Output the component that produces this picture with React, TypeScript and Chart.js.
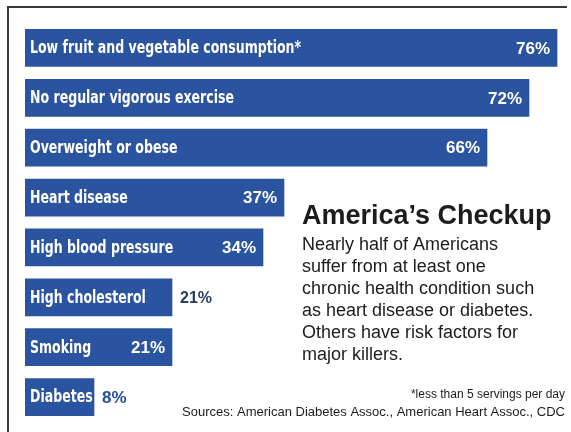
import React, { useEffect, useRef } from "react";
import { Chart, registerables } from "chart.js";

Chart.register(...registerables);

const categories = [
  "Low fruit and vegetable consumption*",
  "No regular vigorous exercise",
  "Overweight or obese",
  "Heart disease",
  "High blood pressure",
  "High cholesterol",
  "Smoking",
  "Diabetes",
];
const values = [76, 72, 66, 37, 34, 21, 21, 8];
const valueInside = [true, true, true, true, true, false, true, false];
const titleText = "America\u2019s Checkup";
const bodyLines = [
  "Nearly half of Americans",
  "suffer from at least one",
  "chronic health condition such",
  "as heart disease or diabetes.",
  "Others have risk factors for",
  "major killers.",
];
const footnote = "*less than 5 servings per day";
const sources = "Sources: American Diabetes Assoc., American Heart Assoc., CDC";

const BAR_COLOR = "#2b54a0";
const NARROW = "'Liberation Sans Narrow', 'DejaVu Sans Condensed', 'Liberation Sans', sans-serif";
const SANS = "'Liberation Sans', Arial, sans-serif";

function condensedText(ctx: any, text: string, x: number, y: number, sx: number) {
  ctx.save();
  ctx.translate(x, y);
  ctx.scale(sx, 1);
  ctx.fillText(text, 0, 0);
  ctx.restore();
}

const labelPlugin = {
  id: "labels",
  beforeDraw(chart: any) {
    const ctx = chart.ctx;
    ctx.save();
    ctx.fillStyle = "#ffffff";
    ctx.fillRect(0, 0, chart.width, chart.height);
    ctx.strokeStyle = "#3a3a3a";
    ctx.lineWidth = 2;
    ctx.beginPath();
    ctx.moveTo(8, 432);
    ctx.lineTo(8, 7);
    ctx.lineTo(567, 7);
    ctx.stroke();
    ctx.restore();
  },
  afterDatasetsDraw(chart: any) {
    const ctx = chart.ctx;
    const meta = chart.getDatasetMeta(0);
    ctx.save();
    ctx.textBaseline = "middle";
    meta.data.forEach((bar: any, i: number) => {
      const left = bar.base;
      const right = bar.x;
      const y = bar.y + 1;
      ctx.font = `bold 17px ${NARROW}`;
      ctx.fillStyle = "#ffffff";
      ctx.textAlign = "left";
      condensedText(ctx, categories[i], left + 5, y, 0.82);
      const vl = `${values[i]}%`;
      if (valueInside[i]) {
        ctx.font = `bold 17px ${SANS}`;
        ctx.textAlign = "right";
        ctx.fillStyle = "#ffffff";
        ctx.fillText(vl, right - 7, y);
      } else {
        ctx.textAlign = "left";
        if (i === values.length - 1) {
          ctx.font = `bold 17px ${SANS}`;
          ctx.fillStyle = "#24509a";
        } else {
          ctx.font = `bold 16px ${SANS}`;
          ctx.fillStyle = "#2a3a62";
        }
        ctx.fillText(vl, right + 8, y);
      }
    });
    // Title & body
    ctx.textBaseline = "alphabetic";
    ctx.textAlign = "left";
    ctx.fillStyle = "#1c1c1c";
    ctx.font = `bold 27px ${SANS}`;
    ctx.fillText(titleText, 302, 224);
    ctx.font = `18px ${SANS}`;
    bodyLines.forEach((l, k) => ctx.fillText(l, 302, 250 + k * 22));
    ctx.textAlign = "right";
    ctx.font = `12px ${SANS}`;
    ctx.fillText(footnote, 565, 398);
    ctx.font = `13px ${SANS}`;
    ctx.fillText(sources, 565, 416);
    ctx.restore();
  },
};

export default function App() {
  const ref = useRef<HTMLCanvasElement | null>(null);
  useEffect(() => {
    if (!ref.current) return;
    const chart = new Chart(ref.current, {
      type: "bar",
      data: {
        labels: categories,
        datasets: [
          {
            data: values,
            backgroundColor: BAR_COLOR,
            borderWidth: 0,
            barThickness: 37,
            minBarLength: 69,
          },
        ],
      },
      options: {
        indexAxis: "y",
        responsive: false,
        animation: false,
        devicePixelRatio: 1,
        layout: { padding: { left: 25, right: 0, top: 23, bottom: 10 } },
        plugins: { legend: { display: false }, tooltip: { enabled: false }, title: { display: false } },
        scales: {
          x: { display: false, min: 0, max: 78 },
          y: { display: false },
        },
      },
      plugins: [labelPlugin],
    } as any);
    return () => chart.destroy();
  }, []);
  return (
    <div style={{ position: "absolute", left: 0, top: 0, width: 571, height: 432 }}>
      <canvas ref={ref} width={571} height={432} />
    </div>
  );
}
